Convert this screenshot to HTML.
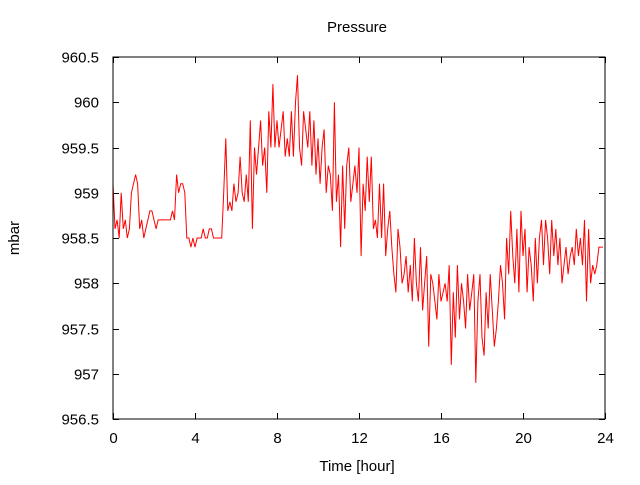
<!DOCTYPE html>
<html><head><meta charset="utf-8"><style>
body{margin:0;background:#fff}
svg text{font-family:"Liberation Sans",sans-serif;font-size:15px;fill:#000}
</style></head><body>
<svg id="chart" width="640" height="480" xmlns="http://www.w3.org/2000/svg">
<rect width="640" height="480" fill="#fff"/>
<text x="357" y="32" text-anchor="middle">Pressure</text>
<text x="357" y="471" text-anchor="middle">Time [hour]</text>
<text x="19" y="238" text-anchor="middle" transform="rotate(-90 19 238)">mbar</text>
<g id="ticks"></g>
<polyline id="series" fill="none" stroke="#ff0000" stroke-width="1"/>
<rect x="113" y="57" width="492" height="362" fill="none" stroke="#000" stroke-width="1"/>
</svg>
<script>
const xTicks=[0,4,8,12,16,20,24];
const yTicks=[956.5,957,957.5,958,958.5,959,959.5,960,960.5];
const yTickLabels=["956.5","957","957.5","958","958.5","959","959.5","960","960.5"];
const timeStep=0.1;
const pressure=[
959.1,958.6,958.7,958.5,959.0,958.6,958.7,958.5,958.6,959.0,
959.1,959.2,959.1,958.6,958.7,958.5,958.6,958.7,958.8,958.8,
958.7,958.6,958.7,958.7,958.7,958.7,958.7,958.7,958.7,958.8,
958.7,959.2,959.0,959.1,959.1,959.0,958.5,958.5,958.4,958.5,
958.4,958.5,958.5,958.5,958.6,958.5,958.5,958.6,958.6,958.5,
958.5,958.5,958.5,958.5,959.0,959.6,958.8,958.9,958.8,959.1,
958.9,959.0,959.4,959.0,958.9,959.2,958.9,959.8,958.6,959.5,
959.2,959.5,959.8,959.3,959.5,959.0,959.9,959.5,960.2,959.5,
959.8,959.5,959.7,959.9,959.4,959.6,959.4,959.9,959.4,960.0,
960.3,959.5,959.3,959.9,959.7,959.5,959.9,959.3,959.8,959.2,
959.6,959.1,959.5,959.7,959.0,959.3,959.2,958.8,960.0,958.9,
959.2,958.4,959.3,958.6,959.3,959.5,958.9,959.1,959.3,959.0,
959.5,958.3,959.1,958.8,959.4,958.9,959.4,958.6,958.7,958.5,
959.1,958.5,959.1,958.3,958.6,958.8,958.4,958.1,957.9,958.6,
958.4,958.0,958.1,958.3,957.9,958.2,957.8,958.5,958.0,957.8,
958.4,957.7,958.0,958.3,957.3,958.1,958.0,957.8,957.6,958.1,
957.8,957.9,958.0,957.8,958.2,957.1,957.9,957.4,958.2,957.6,
958.0,957.8,957.5,958.1,957.7,957.9,958.1,956.9,957.8,958.1,
957.4,957.2,957.9,957.5,958.1,957.7,957.3,957.5,957.8,958.2,
958.0,957.6,958.5,958.1,958.8,958.3,958.0,958.6,957.9,958.8,
958.3,958.6,957.9,958.4,958.2,957.8,958.5,958.0,958.5,958.7,
958.2,958.7,958.5,958.1,958.7,958.3,958.6,958.2,958.5,958.0,
958.2,958.4,958.1,958.3,958.4,958.2,958.6,958.3,958.5,958.2,
958.7,957.8,958.6,958.0,958.2,958.1,958.2,958.4,958.4,958.4];
const X0=113,X1=605,Y0=419,Y1=57;
const xs=t=>X0+(t-0)/(24-0)*(X1-X0);
const ys=v=>Y0-(v-956.5)/(960.5-956.5)*(Y0-Y1);
const NS="http://www.w3.org/2000/svg";
const g=document.getElementById('ticks');
function ln(x1,y1,x2,y2){const l=document.createElementNS(NS,'line');l.setAttribute('x1',x1);l.setAttribute('y1',y1);l.setAttribute('x2',x2);l.setAttribute('y2',y2);l.setAttribute('stroke','#000');g.appendChild(l);return l;}
xTicks.forEach(t=>{const x=Math.round(xs(t))+0.5;
const a=ln(x,Y0,x,Y0-6);


const b=ln(x,Y1,x,Y1+6);


const tx=document.createElementNS(NS,'text');


tx.setAttribute('x',x);tx.setAttribute('y',443);tx.setAttribute('text-anchor','middle');tx.textContent=t;g.appendChild(tx);});
yTicks.forEach((v,i)=>{const y=Math.round(ys(v))+0.5;
const a=ln(X0,y,X0+6,y);


const b=ln(X1,y,X1-6,y);


const tx=document.createElementNS(NS,'text');


tx.setAttribute('x',99);tx.setAttribute('y',y+5);tx.setAttribute('text-anchor','end');tx.textContent=yTickLabels[i];g.appendChild(tx);});
document.getElementById('series').setAttribute('points',pressure.map((v,i)=>xs(i*timeStep).toFixed(1)+','+ys(v).toFixed(1)).join(' '));
</script>
</body></html>
